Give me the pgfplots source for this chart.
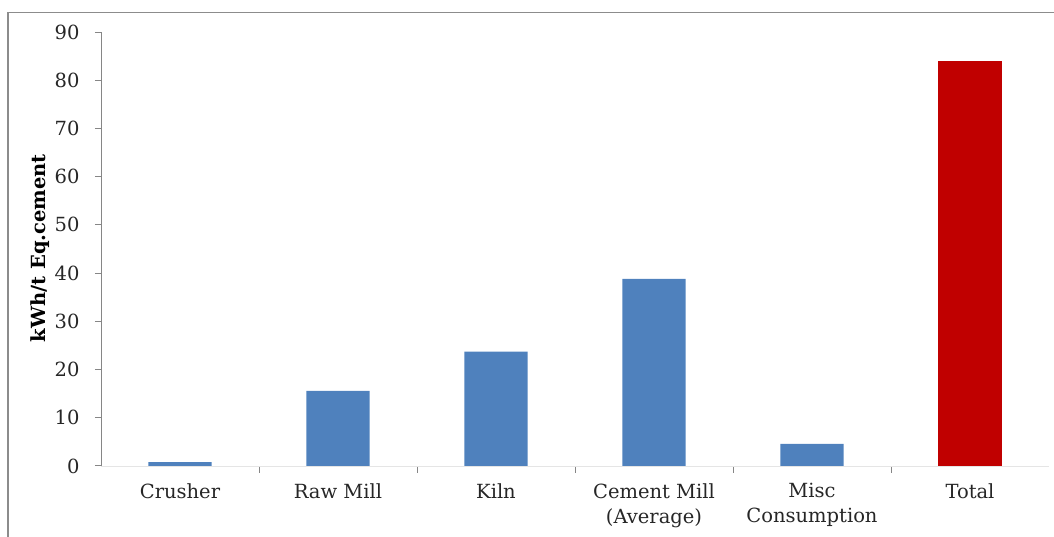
\documentclass[border=0pt]{standalone}
\usepackage{fontspec}
\setmainfont{DejaVu Serif}
\usepackage{pgfplots}
\pgfplotsset{compat=1.18}

\definecolor{barblue}{HTML}{4F81BD}
\definecolor{barred}{HTML}{C00000}
\definecolor{axisgray}{HTML}{868686}
\definecolor{framegray}{HTML}{8C8C8C}

\begin{document}
\begin{tikzpicture}[x=1pt,y=1pt]
  \path[use as bounding box] (0,0) rectangle (1054,537);
  % chart frame
  \draw[framegray, line width=1.2pt] (8,-2) -- (8,524.5) -- (1060,524.5);
  \begin{axis}[
    at={(101pt,71pt)}, anchor=south west,
    scale only axis, width=948pt, height=434pt,
    xmin=-0.5, xmax=5.5, ymin=0, ymax=90,
    ybar, bar shift=0pt, bar width=0.4,
    axis x line*=bottom, axis y line*=left,
    x axis line style={draw=black!10},
    y axis line style={draw=axisgray, line width=1pt},
    xtick={0,1,2,3,4,5},
    xticklabels={Crusher, Raw Mill, Kiln, {Cement Mill\\(Average)}, {Misc\\Consumption}, Total},
    minor xtick={0.5,1.5,2.5,3.5,4.5},
    ytick={0,10,...,90},
    tick align=outside,
    major x tick style={draw=none},
    minor x tick style={draw=axisgray, line width=1pt},
    minor tick length=7pt,
    y tick style={draw=axisgray, line width=1pt},
    major tick length=6pt,
    /pgf/number format/assume math mode=true,
    ticklabel style={font=\fontsize{19.5}{25}\selectfont, text=black!85},
    xticklabel style={align=center, yshift=-8pt},
    yticklabel style={xshift=-12pt},
    ylabel={\textbf{kWh/t Eq.cement}},
    ylabel style={font=\fontsize{19.5}{23}\selectfont, at={(axis description cs:-0.064,0.502)}, anchor=center},
  ]
    \addplot[fill=barblue, draw=none] coordinates {(0,0.8) (1,15.6) (2,23.7) (3,38.8) (4,4.6)};
    \addplot[fill=barred, draw=none] coordinates {(5,83.9)};
  \end{axis}
\end{tikzpicture}
\end{document}
